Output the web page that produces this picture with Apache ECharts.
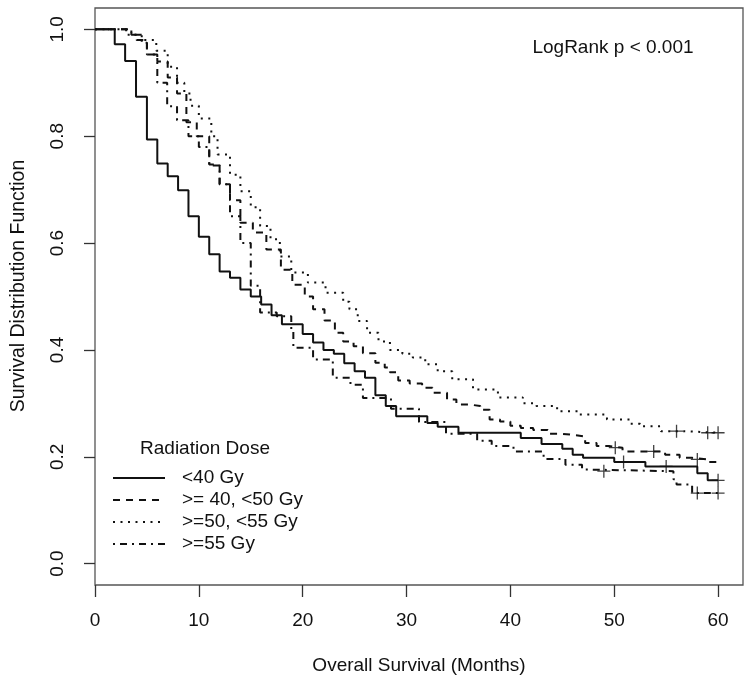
<!DOCTYPE html>
<html><head><meta charset="utf-8">
<script src="https://cdn.jsdelivr.net/npm/echarts@6/dist/echarts.min.js"></script>
<style>html,body{margin:0;padding:0;background:#fff}#c{width:750px;height:683px}</style>
</head><body><div id="c"></div>
<script>
// ---- data ----
const groupNames = ['<40 Gy', '>= 40, <50 Gy', '>=50, <55 Gy', '>=55 Gy'];
const legendTitle = 'Radiation Dose';
const annotation = 'LogRank p < 0.001';
const xTitle = 'Overall Survival (Months)';
const yTitle = 'Survival Distribution Function';
const xTicks = [0, 10, 20, 30, 40, 50, 60];
const yTicks = [0, 0.2, 0.4, 0.6, 0.8, 1.0];

// <40 Gy
const t1 = [0,1.9,2.9,3.95,5,6,7,8,9,10,11,12,13,14,15,16,17,18,20,21,22,23,24,25,26,27,28,29,32,33,35,41,43,45,46,47,50,53,58,59,60];
const s1 = [1.0,0.972,0.941,0.874,0.794,0.749,0.725,0.699,0.650,0.612,0.579,0.547,0.535,0.513,0.50,0.485,0.465,0.448,0.430,0.414,0.40,0.393,0.375,0.36,0.348,0.315,0.295,0.276,0.263,0.256,0.245,0.235,0.224,0.215,0.204,0.198,0.19,0.182,0.169,0.156,0.156];
// >=40, <50 Gy
const t2 = [0,3.5,4,5,6,7,7.9,8.8,9.8,11,12,13,14,15.2,16.5,17.9,19,20.2,21,22.1,23.1,23.9,24.9,25.8,27,27.9,28.4,29.2,30.3,31.5,32.5,33.9,34.8,36,37.1,38,39,40,41,42.2,43.6,45,46.5,47.2,48.3,49.5,50.8,54.9,56.3,57.5,59,59.9,60];
const s2 = [1,0.99,0.98,0.953,0.94,0.91,0.88,0.826,0.80,0.747,0.71,0.68,0.638,0.62,0.588,0.55,0.522,0.50,0.476,0.455,0.432,0.416,0.407,0.394,0.376,0.367,0.358,0.343,0.337,0.329,0.32,0.307,0.298,0.295,0.288,0.27,0.266,0.258,0.254,0.25,0.243,0.24,0.238,0.226,0.22,0.217,0.21,0.204,0.198,0.195,0.19,0.183,0.183];
// >=50, <55 Gy
const t3 = [0,3.5,4.5,5.9,7,7.9,8.6,9.2,10,11.2,11.8,13,14,15,15.9,16.9,17.8,18.9,20.5,22.2,23.9,24.5,25.3,26.2,27.3,28.4,29.6,30.6,31.8,33,34.4,36.4,38.8,41.2,42.5,44.5,46.5,49.3,51.5,52.5,54.5,56.5,60];
const s3 = [1,0.99,0.98,0.96,0.93,0.9,0.88,0.857,0.833,0.80,0.766,0.728,0.697,0.667,0.632,0.607,0.575,0.545,0.526,0.507,0.49,0.476,0.454,0.432,0.416,0.40,0.393,0.386,0.373,0.36,0.345,0.326,0.311,0.30,0.295,0.285,0.279,0.27,0.262,0.257,0.248,0.245,0.245];
// >=55 Gy
const t4 = [0,3,4.5,5,6,6.95,7.9,9,10,11,12,13,14,15,15.9,17.5,18.9,19.1,21,22.9,24.6,25.8,28.5,31.2,33.8,36.8,38.2,40.3,43.2,45.3,46.9,47.8,55.7,56,57.5,60];
const s4 = [1,0.99,0.975,0.953,0.90,0.856,0.83,0.80,0.78,0.745,0.71,0.65,0.60,0.52,0.47,0.463,0.435,0.404,0.382,0.348,0.335,0.31,0.29,0.265,0.243,0.23,0.22,0.21,0.196,0.185,0.176,0.173,0.158,0.148,0.132,0.132];

// censored observations
const c1t = [50.9, 55, 60],   c1s = [0.19, 0.182, 0.156];
const c2t = [50.1, 53.8, 58], c2s = [0.217, 0.21, 0.195];
const c3t = [56, 59, 60],     c3s = [0.248, 0.245, 0.245];
const c4t = [49, 58, 60],     c4s = [0.173, 0.132, 0.132];

// ---- styling ----
const FONT = '"Liberation Sans", Arial, sans-serif';
const INK = '#111';
const dashes = ['solid', [7, 6], [2, 5.5], [2, 5, 7, 5]];
const times = [t1, t2, t3, t4];
const survs = [s1, s2, s3, s4];
const cts = [c1t, c2t, c3t, c4t];
const css = [c1s, c2s, c3s, c4s];
const zip = (a, b) => a.map((v, i) => [v, b[i]]);

const series = [];
groupNames.forEach((name, i) => {
  series.push({
    name, type: 'line', step: 'end', symbol: 'none', silent: true,
    data: zip(times[i], survs[i]),
    lineStyle: { color: INK, width: 2, type: dashes[i] }
  });
});
groupNames.forEach((name, i) => {
  series.push({
    name: name + ' censored', type: 'scatter', silent: true,
    symbol: 'path://M0,6L12,6M6,0L6,12', symbolSize: 13,
    itemStyle: { color: 'transparent', borderColor: INK, borderWidth: 1.3 },
    data: zip(cts[i], css[i])
  });
});

// legend + annotations drawn as graphic
const lgX1 = 113, lgX2 = 165, lgTextX = 182, lgTop = 478, lgGap = 22;
const graphic = [];
graphic.push({ type: 'text', x: 205, y: 449, style: { text: legendTitle, font: '19px ' + FONT, fill: INK, textAlign: 'center', textVerticalAlign: 'middle' } });
groupNames.forEach((name, i) => {
  const y = lgTop + i * lgGap;
  graphic.push({ type: 'line', shape: { x1: lgX1, y1: y, x2: lgX2, y2: y },
    style: { stroke: INK, lineWidth: 2, lineDash: dashes[i] === 'solid' ? null : dashes[i] } });
  graphic.push({ type: 'text', x: lgTextX, y: y, style: { text: name, font: '19px ' + FONT, fill: INK, textAlign: 'left', textVerticalAlign: 'middle' } });
});
graphic.push({ type: 'text', x: 613, y: 48, style: { text: annotation, font: '19px ' + FONT, fill: INK, textAlign: 'center', textVerticalAlign: 'middle' } });
graphic.push({ type: 'text', x: 19, y: 286, rotation: Math.PI / 2, style: { text: yTitle, font: '19.5px ' + FONT, fill: INK, textAlign: 'center', textVerticalAlign: 'middle' } });

const chart = echarts.init(document.getElementById('c'), null, { renderer: 'canvas' });
chart.setOption({
  animation: false,
  backgroundColor: '#fff',
  grid: { left: 95, right: 7, top: 8, bottom: 98, show: true, borderColor: '#555', borderWidth: 1.3, backgroundColor: 'transparent', outerBoundsMode: 'none' },
  xAxis: {
    type: 'value', min: 0, max: 62.4,
    name: xTitle, nameLocation: 'middle', nameGap: 71,
    nameTextStyle: { fontFamily: FONT, fontSize: 19, color: INK },
    axisLine: { show: false, onZero: false },
    axisTick: { show: true, inside: false, length: 12, customValues: xTicks, lineStyle: { color: '#333', width: 1.3 } },
    axisLabel: { customValues: xTicks, margin: 26, fontFamily: FONT, fontSize: 19, color: INK },
    splitLine: { show: false }
  },
  yAxis: {
    type: 'value', min: -0.04, max: 1.04,
    axisLine: { show: false, onZero: false },
    axisTick: { show: true, inside: false, length: 11, customValues: yTicks, lineStyle: { color: '#333', width: 1.3 } },
    axisLabel: { customValues: yTicks, rotate: 90, margin: 28, fontFamily: FONT, fontSize: 19, color: INK,
      formatter: v => v.toFixed(1) },
    splitLine: { show: false }
  },
  graphic,
  series
});
</script>
</body></html>
